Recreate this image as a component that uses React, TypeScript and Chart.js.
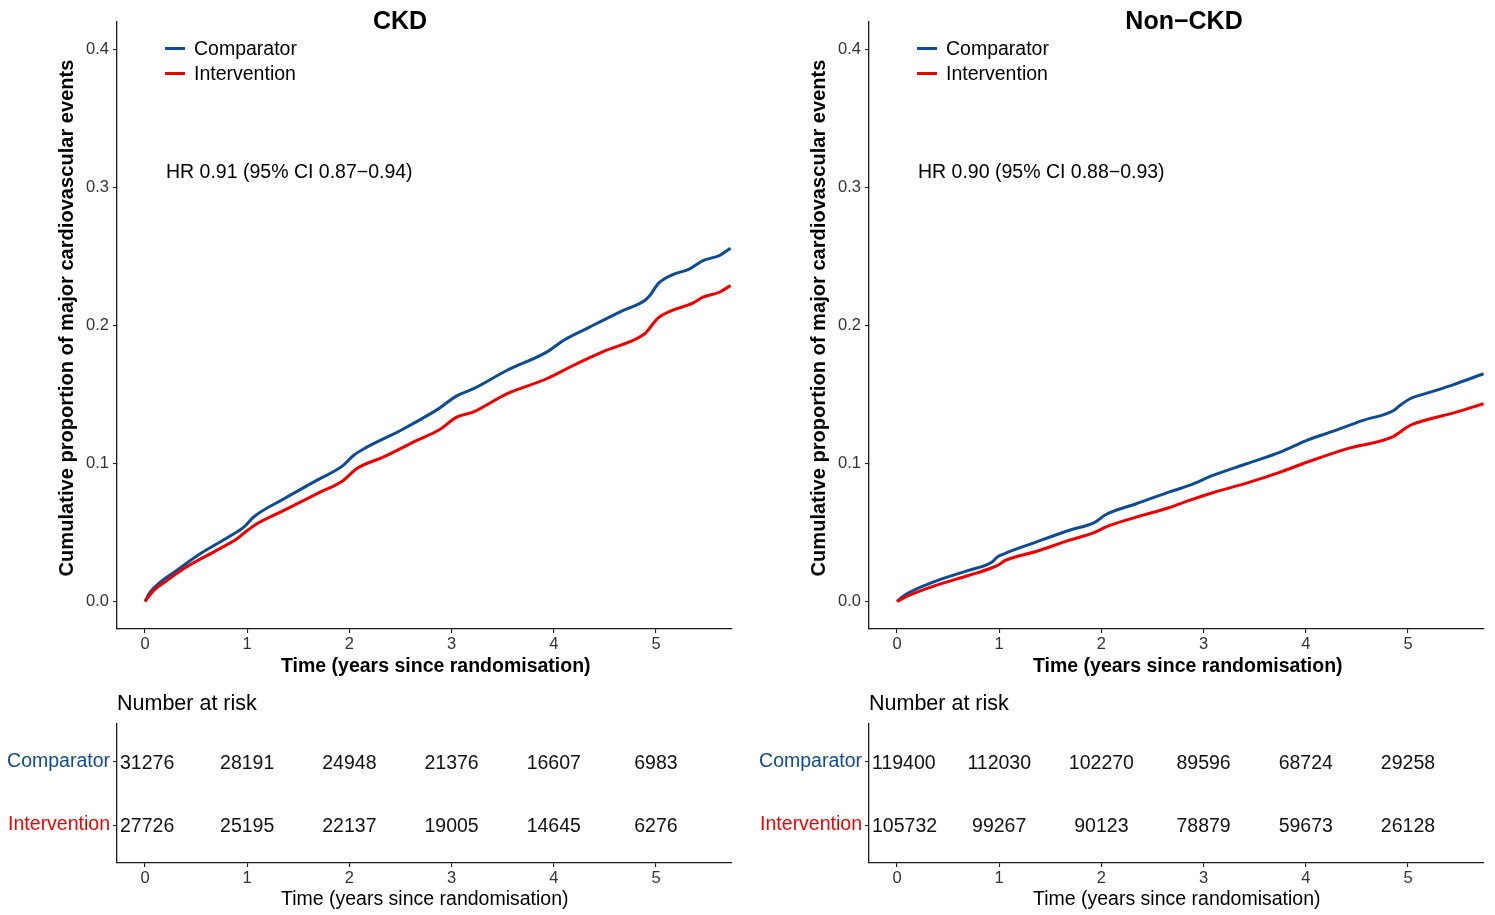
import React, { useEffect, useRef } from "react";
import { Chart, registerables } from "chart.js";

Chart.register(...registerables);

const FONT = "'Liberation Sans', Arial, Helvetica, sans-serif";
const BLUE = "#0D4C94";
const RED = "#F20000";
const AXIS = "#1a1a1a";
const TICK_TEXT = "#333333";

// Axis ticks and limits
const X_TICKS = [0, 1, 2, 3, 4, 5];
const Y_TICKS = [0, 0.1, 0.2, 0.3, 0.4];
const X_MIN = -0.274;
const X_MAX = 5.744;
const Y_MIN = -0.02;
const Y_MAX = 0.42;

const Y_TITLE = "Cumulative proportion of major cardiovascular events";
const X_TITLE = "Time (years since randomisation)";
const GROUPS = ["Comparator", "Intervention"];

// CKD: cumulative incidence, comparator arm
const CKD_COMP_T = [0, 0.05, 0.15, 0.31, 0.54, 0.87, 0.97, 1.06, 1.36, 1.68, 1.94, 2.04, 2.17, 2.5, 2.82, 2.88, 3.05, 3.21, 3.54, 3.93, 4.09, 4.35, 4.68, 4.89, 4.94, 5.02, 5.16, 5.33, 5.46, 5.62, 5.73];
const CKD_COMP_P = [0, 0.0067, 0.014, 0.0225, 0.0345, 0.049, 0.054, 0.061, 0.0744, 0.0877, 0.0986, 0.1058, 0.1118, 0.1239, 0.1372, 0.14, 0.149, 0.154, 0.1674, 0.1807, 0.189, 0.1988, 0.2109, 0.2181, 0.2217, 0.2302, 0.2367, 0.2411, 0.2471, 0.2507, 0.256];

// CKD: cumulative incidence, intervention arm
const CKD_INT_T = [0, 0.085, 0.215, 0.378, 0.7, 0.9, 1.0, 1.095, 1.36, 1.68, 1.94, 2.07, 2.33, 2.66, 2.88, 3.05, 3.21, 3.54, 3.93, 4.19, 4.51, 4.89, 4.92, 5.02, 5.16, 5.36, 5.46, 5.62, 5.73];
const CKD_INT_P = [0, 0.008, 0.0152, 0.0237, 0.037, 0.0454, 0.0514, 0.0563, 0.066, 0.078, 0.0877, 0.0962, 0.1046, 0.1167, 0.1244, 0.1336, 0.1372, 0.1505, 0.1614, 0.171, 0.1819, 0.194, 0.1964, 0.2053, 0.2109, 0.2162, 0.2205, 0.2241, 0.229];

// Non-CKD: cumulative incidence, comparator arm
const NON_COMP_T = [0, 0.085, 0.38, 0.7, 0.93, 0.98, 1.03, 1.36, 1.68, 1.94, 2.04, 2.34, 2.66, 2.86, 3.09, 3.42, 3.75, 4.01, 4.24, 4.56, 4.86, 4.92, 5.02, 5.22, 5.44, 5.74];
const NON_COMP_P = [0, 0.005, 0.0147, 0.0225, 0.0285, 0.0321, 0.034, 0.043, 0.0514, 0.0575, 0.0628, 0.0708, 0.0792, 0.0841, 0.0913, 0.0998, 0.1082, 0.1167, 0.1227, 0.1312, 0.1384, 0.142, 0.1469, 0.1517, 0.157, 0.165];

// Non-CKD: cumulative incidence, intervention arm
const NON_INT_T = [0, 0.117, 0.38, 0.7, 0.93, 1.0, 1.06, 1.36, 1.68, 1.94, 2.04, 2.34, 2.66, 2.86, 3.09, 3.42, 3.75, 4.01, 4.4, 4.86, 4.92, 5.02, 5.22, 5.44, 5.74];
const NON_INT_P = [0, 0.0043, 0.0116, 0.0188, 0.0244, 0.0268, 0.0297, 0.0362, 0.0442, 0.0502, 0.0539, 0.0611, 0.0679, 0.0732, 0.0788, 0.0857, 0.0937, 0.1009, 0.1106, 0.1196, 0.1227, 0.1275, 0.1324, 0.1365, 0.1433];

// Number at risk
const RISK_T = [0, 1, 2, 3, 4, 5];
const CKD_RISK_COMP = [31276, 28191, 24948, 21376, 16607, 6983];
const CKD_RISK_INT = [27726, 25195, 22137, 19005, 14645, 6276];
const NON_RISK_COMP = [119400, 112030, 102270, 89596, 68724, 29258];
const NON_RISK_INT = [105732, 99267, 90123, 78879, 59673, 26128];

type Panel = {
  title: string;
  hr: string;
  compT: number[];
  compP: number[];
  intT: number[];
  intP: number[];
  riskComp: number[];
  riskInt: number[];
};

type Frame = {
  left: number;
  width: number;
  axisWidth: number;
  rightPad: number;
  titleX: number;
};

const PANELS: Panel[] = [
  {
    title: "CKD",
    hr: "HR 0.91 (95% CI 0.87\u22120.94)",
    compT: CKD_COMP_T,
    compP: CKD_COMP_P,
    intT: CKD_INT_T,
    intP: CKD_INT_P,
    riskComp: CKD_RISK_COMP,
    riskInt: CKD_RISK_INT,
  },
  {
    title: "Non\u2212CKD",
    hr: "HR 0.90 (95% CI 0.88\u22120.93)",
    compT: NON_COMP_T,
    compP: NON_COMP_P,
    intT: NON_INT_T,
    intP: NON_INT_P,
    riskComp: NON_RISK_COMP,
    riskInt: NON_RISK_INT,
  },
];

const FRAMES: Frame[] = [
  { left: 0, width: 745, axisWidth: 117, rightPad: 13, titleX: 400 },
  { left: 750, width: 745, axisWidth: 119, rightPad: 11, titleX: 434 },
];

const PLOT_H = 680;
const RISK_TOP = 680;
const RISK_H = 235;

function xScale(height: number) {
  return {
    type: "linear" as const,
    min: X_MIN,
    max: X_MAX,
    afterBuildTicks: (s: any) => {
      s.ticks = X_TICKS.map((v) => ({ value: v }));
    },
    afterFit: (s: any) => {
      s.height = height;
    },
    grid: { drawOnChartArea: false, drawTicks: true, tickLength: 4, color: AXIS, lineWidth: 1.1 },
    border: { display: true, color: AXIS, width: 1.3 },
    ticks: {
      color: TICK_TEXT,
      font: { family: FONT, size: 16.5 },
      padding: 2,
      maxRotation: 0,
      autoSkip: false,
      callback: (v: any) => String(v),
    },
  };
}

function SurvivalPlot({ panel, frame }: { panel: Panel; frame: Frame }) {
  const ref = useRef<HTMLCanvasElement>(null);
  useEffect(() => {
    const canvas = ref.current;
    if (!canvas) return;

    const annotations = {
      id: "kmAnnotations",
      afterDraw(chart: any) {
        const { ctx, chartArea } = chart;
        const left = chartArea.left;
        ctx.save();
        ctx.fillStyle = "#000";

        ctx.font = `bold 25px ${FONT}`;
        ctx.textAlign = "center";
        ctx.textBaseline = "middle";
        ctx.fillText(panel.title, frame.titleX, 22);

        ctx.save();
        ctx.translate(left - 44, 318);
        ctx.rotate(-Math.PI / 2);
        ctx.font = `bold 20.1px ${FONT}`;
        ctx.textAlign = "center";
        ctx.textBaseline = "alphabetic";
        ctx.fillText(Y_TITLE, 0, 0);
        ctx.restore();

        ctx.font = `bold 19.5px ${FONT}`;
        ctx.textAlign = "left";
        ctx.textBaseline = "alphabetic";
        ctx.fillText(X_TITLE, left + 164, 672);

        // legend
        const colors = [BLUE, RED];
        const lineY = [48.5, 73.5];
        const textY = [55, 80];
        chart.data.datasets.forEach((ds: any, i: number) => {
          ctx.strokeStyle = colors[i];
          ctx.lineWidth = 3;
          ctx.beginPath();
          ctx.moveTo(left + 48, lineY[i]);
          ctx.lineTo(left + 68, lineY[i]);
          ctx.stroke();
          ctx.fillStyle = "#000";
          ctx.font = `19.5px ${FONT}`;
          ctx.fillText(ds.label, left + 77, textY[i]);
        });

        ctx.font = `19.5px ${FONT}`;
        ctx.fillStyle = "#000";
        ctx.fillText(panel.hr, left + 49, 178);
        ctx.restore();
      },
    };

    const chart = new Chart(canvas, {
      type: "line",
      data: {
        datasets: [
          {
            label: GROUPS[0],
            data: panel.compT.map((t, i) => ({ x: t, y: panel.compP[i] })),
            borderColor: BLUE,
            backgroundColor: BLUE,
            borderWidth: 3,
            pointRadius: 0,
            cubicInterpolationMode: "monotone",
            order: 1,
          },
          {
            label: GROUPS[1],
            data: panel.intT.map((t, i) => ({ x: t, y: panel.intP[i] })),
            borderColor: RED,
            backgroundColor: RED,
            borderWidth: 3,
            pointRadius: 0,
            cubicInterpolationMode: "monotone",
            order: 0,
          },
        ],
      },
      options: {
        animation: false,
        responsive: false,
        maintainAspectRatio: false,
        devicePixelRatio: 1,
        layout: { padding: { left: 0, top: 22, right: frame.rightPad, bottom: 0 } },
        plugins: { legend: { display: false }, tooltip: { enabled: false }, title: { display: false } },
        scales: {
          x: xScale(PLOT_H - 629),
          y: {
            type: "linear",
            min: Y_MIN,
            max: Y_MAX,
            afterBuildTicks: (s: any) => {
              s.ticks = Y_TICKS.map((v) => ({ value: v }));
            },
            afterFit: (s: any) => {
              s.width = frame.axisWidth;
            },
            grid: { drawOnChartArea: false, drawTicks: true, tickLength: 4, color: AXIS, lineWidth: 1.1 },
            border: { display: true, color: AXIS, width: 1.3 },
            ticks: {
              color: TICK_TEXT,
              font: { family: FONT, size: 16.5 },
              padding: 4,
              autoSkip: false,
              callback: (v: any) => Number(v).toFixed(1),
            },
          },
        },
      },
      plugins: [annotations],
    } as any);
    return () => chart.destroy();
  }, [panel, frame]);

  return (
    <canvas
      ref={ref}
      width={frame.width}
      height={PLOT_H}
      style={{ position: "absolute", left: frame.left, top: 0, width: frame.width, height: PLOT_H }}
    />
  );
}

function RiskTable({ panel, frame }: { panel: Panel; frame: Frame }) {
  const ref = useRef<HTMLCanvasElement>(null);
  useEffect(() => {
    const canvas = ref.current;
    if (!canvas) return;

    const riskText = {
      id: "riskText",
      afterDatasetsDraw(chart: any) {
        const { ctx, chartArea } = chart;
        ctx.save();
        ctx.fillStyle = "#111";
        ctx.font = `19.5px ${FONT}`;
        ctx.textAlign = "center";
        ctx.textBaseline = "alphabetic";
        chart.data.datasets.forEach((ds: any, di: number) => {
          const meta = chart.getDatasetMeta(di);
          meta.data.forEach((pt: any, i: number) => {
            const label = String(ds.data[i].n);
            const half = ctx.measureText(label).width / 2;
            // keep the first column clear of the axis line
            const cx = Math.max(pt.x, chartArea.left + 3 + half);
            ctx.fillText(label, cx, pt.y + 7);
          });
        });

        ctx.fillStyle = "#000";
        ctx.textAlign = "left";
        ctx.textBaseline = "alphabetic";
        ctx.font = `21.5px ${FONT}`;
        ctx.fillText("Number at risk", chartArea.left, 710 - RISK_TOP);

        ctx.font = `19.5px ${FONT}`;
        ctx.fillText(X_TITLE, chartArea.left + 164, 905 - RISK_TOP);
        ctx.restore();
      },
    };

    const chart = new Chart(canvas, {
      type: "scatter",
      data: {
        datasets: [
          {
            label: GROUPS[0],
            data: RISK_T.map((t, i) => ({ x: t, y: 2, n: panel.riskComp[i] })),
            pointRadius: 0,
            borderColor: BLUE,
            backgroundColor: BLUE,
          },
          {
            label: GROUPS[1],
            data: RISK_T.map((t, i) => ({ x: t, y: 1, n: panel.riskInt[i] })),
            pointRadius: 0,
            borderColor: RED,
            backgroundColor: RED,
          },
        ],
      },
      options: {
        animation: false,
        responsive: false,
        maintainAspectRatio: false,
        devicePixelRatio: 1,
        layout: { padding: { left: 0, top: 724 - RISK_TOP, right: frame.rightPad, bottom: 0 } },
        plugins: { legend: { display: false }, tooltip: { enabled: false } },
        scales: {
          x: xScale(RISK_H - (863 - RISK_TOP)),
          y: {
            type: "linear",
            min: 0.4,
            max: 2.6,
            afterBuildTicks: (s: any) => {
              s.ticks = [{ value: 1 }, { value: 2 }];
            },
            afterFit: (s: any) => {
              s.width = frame.axisWidth;
            },
            grid: { drawOnChartArea: false, drawTicks: true, tickLength: 4, color: AXIS, lineWidth: 1.1 },
            border: { display: true, color: AXIS, width: 1.3 },
            ticks: {
              font: { family: FONT, size: 19.5 },
              padding: 3,
              autoSkip: false,
              color: (c: any) => (c.tick && c.tick.value === 2 ? BLUE : RED),
              callback: (v: any) => (v === 2 ? GROUPS[0] : GROUPS[1]),
            },
          },
        },
      },
      plugins: [riskText],
    } as any);
    return () => chart.destroy();
  }, [panel, frame]);

  return (
    <canvas
      ref={ref}
      width={frame.width}
      height={RISK_H}
      style={{ position: "absolute", left: frame.left, top: RISK_TOP, width: frame.width, height: RISK_H }}
    />
  );
}

export default function App() {
  return (
    <div style={{ position: "absolute", left: 0, top: 0, width: 1495, height: 915, background: "#fff" }}>
      {PANELS.map((p, i) => (
        <React.Fragment key={p.title}>
          <SurvivalPlot panel={p} frame={FRAMES[i]} />
          <RiskTable panel={p} frame={FRAMES[i]} />
        </React.Fragment>
      ))}
    </div>
  );
}
